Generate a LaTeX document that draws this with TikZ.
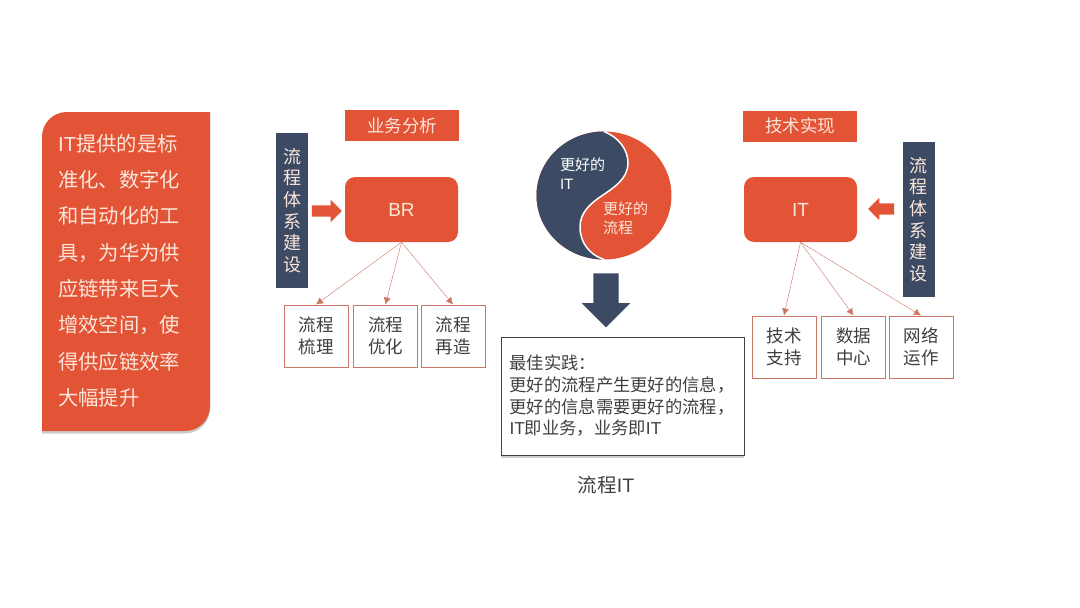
\documentclass[tikz,border=0pt]{standalone}
\usepackage{fontspec}
\setmainfont{Noto Sans CJK SC}
\newfontfamily\latfont{Liberation Sans}
\usetikzlibrary{arrows.meta, shapes.arrows, shadows}
\definecolor{flowred}{HTML}{E35436}
\definecolor{flownavy}{HTML}{3C4B63}
\definecolor{flowedge}{HTML}{CB7565}
\definecolor{flowpale}{HTML}{FBE6DC}
\definecolor{flowgray}{HTML}{404040}
\newcommand{\fsize}[2]{\fontsize{#1}{#2}\selectfont}

\begin{document}
\begin{tikzpicture}[x=1pt, y=-1pt,
    headbox/.style={fill=flowred, text=flowpale, minimum width=114pt, minimum height=31pt, inner sep=0pt, font=\fsize{17.5}{21}},
    corebox/.style={fill=flowred, text=flowpale, rounded corners=10pt, minimum width=113pt, minimum height=65pt, inner sep=0pt, font=\latfont\fsize{19}{22}},
    sidebar/.style={fill=flownavy, text=flowpale, minimum width=32pt, minimum height=155pt, inner sep=0pt, align=center, font=\fsize{18}{21.7}},
    leafbox/.style={draw=flowedge, line width=0.95pt, fill=white, text=flowgray, minimum width=64pt, minimum height=62pt, inner sep=0pt, align=center, font=\fsize{17.5}{22}},
    link/.style={draw=flowedge, -{Latex[length=7pt, width=7pt]}},
    blockarrow/.style={single arrow, fill=flowred, inner xsep=0pt, inner ysep=5.5pt, minimum height=30pt, single arrow head extend=5.5pt}]
    \useasboundingbox (0,0) rectangle (1080,608);

    % Left note
    \fill[flowred, drop shadow={shadow xshift=0pt, shadow yshift=-2.5pt, opacity=0.4}]
        (42,137) .. controls (42,123) and (53,112) .. (67,112) -- (210,112) -- (210,406)
        .. controls (210,420) and (199,431) .. (185,431) -- (42,431) -- cycle;
    \node[text=flowpale, align=left, anchor=north west, inner sep=0pt, font=\fsize{20.3}{36.3}] (note) at (58,134)
        {{\latfont IT}提供的是标\\准化、数字化\\和自动化的工\\具，为华为供\\应链带来巨大\\增效空间，使\\得供应链效率\\大幅提升};

    % Business side
    \node[headbox] (bizhead) at (402,125.5) {业务分析};
    \node[sidebar] (bizbar) at (292,210.5) {流\\程\\体\\系\\建\\设};
    \node[blockarrow] (bizarrow) at (324,211) {};
    \node[corebox] (br) at (401.5,209.5) {BR};
    \node[leafbox] (bizleafa) at (316,336) {流程\\梳理};
    \node[leafbox] (bizleafb) at (385.5,336) {流程\\优化};
    \node[leafbox] (bizleafc) at (453,336) {流程\\再造};
    \draw[link] (br.south) -- (bizleafa.north);
    \draw[link] (br.south) -- (bizleafb.north);
    \draw[link] (br.south) -- (bizleafc.north);

    % Yin and yang
    \fill[flowred] (604,195.5) ellipse (67.5 and 64);
    \fill[flownavy] (604,131.5) arc (-90:-270:67.5 and 64)
        .. controls (590,255) and (580,243) .. (580,227)
        .. controls (580,212) and (591,203) .. (603,195)
        .. controls (615,187) and (628,178) .. (628,163)
        .. controls (628,149) and (618,137) .. (604,131.5) -- cycle;
    \draw[white, line width=1.5pt] (604,259.5)
        .. controls (590,255) and (580,243) .. (580,227)
        .. controls (580,212) and (591,203) .. (603,195)
        .. controls (615,187) and (628,178) .. (628,163)
        .. controls (628,149) and (618,137) .. (604,131.5);
    \node[text=white, align=left, inner sep=0pt, font=\fsize{15}{19}] (yinlabel) at (582.5,174) {更好的\\{\latfont IT}};
    \node[text=flowpale, align=left, inner sep=0pt, font=\fsize{15}{19}] (yanglabel) at (625.5,218.5) {更好的\\流程};

    % Outcome
    \node[blockarrow, fill=flownavy, rotate=-90, minimum height=54pt, inner ysep=12.5pt, single arrow head extend=11.5pt] (downarrow) at (606,294) {};
    \node[draw=flowgray, thick, fill=white, text=flowgray, minimum width=243pt, minimum height=118pt, inner xsep=8.5pt, inner ysep=0pt, text width=226pt, align=left,
        font=\fsize{17.3}{21.7}, drop shadow={shadow xshift=0pt, shadow yshift=-2.5pt, opacity=0.4}] (best) at (622.5,396)
        {最佳实践：\\更好的流程产生更好的信息，\\更好的信息需要更好的流程，\\{\latfont IT}即业务，业务即{\latfont IT}};
    \node[text=flowgray, inner sep=0pt, font=\fsize{19.5}{23}] (caption) at (606,485) {流程{\latfont IT}};

    % Technology side
    \node[headbox] (techhead) at (800,126) {技术实现};
    \node[sidebar] (techbar) at (918.5,219.5) {流\\程\\体\\系\\建\\设};
    \node[blockarrow, rotate=180, minimum height=26pt] (techarrow) at (884,209) {};
    \node[corebox] (it) at (800.5,209.5) {IT};
    \node[leafbox] (techleafa) at (784,347) {技术\\支持};
    \node[leafbox] (techleafb) at (853.5,347) {数据\\中心};
    \node[leafbox] (techleafc) at (921,347) {网络\\运作};
    \draw[link] (it.south) -- (techleafa.north);
    \draw[link] (it.south) -- (techleafb.north);
    \draw[link] (it.south) -- (techleafc.north);
\end{tikzpicture}
\end{document}
